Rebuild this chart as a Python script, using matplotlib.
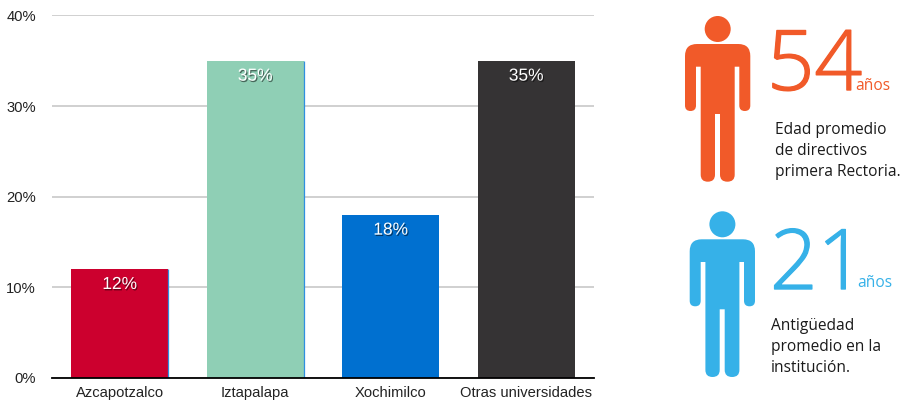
# plot.py - bar chart with two person icons on the right
import matplotlib
matplotlib.use('Agg')
import matplotlib.pyplot as plt
import matplotlib.patches as mp
import matplotlib.patheffects as pe
from matplotlib.path import Path

# data
categories = ['Azcapotzalco', 'Iztapalapa', 'Xochimilco', 'Otras universidades']
values = [12, 35, 18, 35]
bar_colors = ['#cc002e', '#8fcfb5', '#0070d0', '#353334']
yticks = [0, 10, 20, 30, 40]

W, H = 902, 401
fig = plt.figure(figsize=(W/100, H/100), dpi=100)
plt.rcParams['font.family'] = ['Liberation Sans', 'DejaVu Sans']

# main chart
ax = fig.add_axes([52/W, 1-377.8/H, 542/W, 362.4/H])
x = list(range(len(categories)))
ax.bar(x, values, width=0.716, color=bar_colors, zorder=3)
# thin blue edge on the right of the first two bars
for i in x[:2]:
    ax.vlines(i+0.358, 0, values[i], color='#2f8fe0', lw=0.9, zorder=4)
ax.set_xlim(-0.5, 3.5)
ax.set_ylim(0, 40)
ax.set_yticks(yticks)
ax.set_yticklabels([str(t)+'%' for t in yticks], fontsize=10.6, color='#222222')
ax.set_xticks(x)
ax.set_xticklabels(categories, fontsize=10.6, color='#222222')
ax.tick_params(axis='both', length=0)
ax.tick_params(axis='y', pad=11.5)
ax.tick_params(axis='x', pad=6)
ax.grid(axis='y', color='#c8c8c8', lw=1.2, zorder=0)
for s in ['top', 'left', 'right']:
    ax.spines[s].set_visible(False)
ax.spines['bottom'].set_color('black')
ax.spines['bottom'].set_linewidth(1.3)
ax.spines['bottom'].set_zorder(5)
for i in x:
    t = ax.text(i, values[i]-1.7, str(values[i])+'%', ha='center', va='center',
                fontsize=12.5, color='white', zorder=6)
    t.set_path_effects([pe.withSimplePatchShadow(offset=(0.8, -1), shadow_rgbFace='black', alpha=0.5)])

# overlay in pixel coordinates for the icons and text
ov = fig.add_axes([0, 0, 1, 1])
ov.set_xlim(0, W)
ov.set_ylim(H, 0)
ov.axis('off')
ov.patch.set_alpha(0)


def person(dx, dy, col):
    ov.add_patch(mp.Circle((717.7+dx, 29+dy), 13, fc=col, ec='none'))
    L = Path.LINETO
    C = Path.CURVE3
    outline = [
        (697, 44, Path.MOVETO), (738.3, 44, L),
        (750.3, 44, C), (750.3, 56, C),
        (750.3, 105.5, L),
        (750.3, 111, C), (744.8, 111, C),
        (739.3, 111, C), (739.3, 105.5, C),
        (739.3, 66.7, L), (734.7, 66.7, L),
        (734.7, 174.7, L),
        (734.7, 181.7, C), (727.4, 181.7, C),
        (720, 181.7, C), (720, 174.7, C),
        (720, 114, L), (715, 114, L),
        (715, 174.7, L),
        (715, 181.7, C), (707.8, 181.7, C),
        (700.7, 181.7, C), (700.7, 174.7, C),
        (700.7, 66.7, L), (696, 66.7, L),
        (696, 105.5, L),
        (696, 111, C), (690.5, 111, C),
        (685, 111, C), (685, 105.5, C),
        (685, 56, L),
        (685, 44, C), (697, 44, C),
    ]
    verts = [(p[0]+dx, p[1]+dy) for p in outline]
    codes = [p[2] for p in outline]
    ov.add_patch(mp.PathPatch(Path(verts, codes), fc=col, ec='none'))


orange = '#f15a29'
blue = '#36b1e8'
person(0, 0, orange)
person(4.7, 195.3, blue)

big = dict(family=['Open Sans', 'DejaVu Sans'], weight=300, fontsize=60, va='baseline', ha='left')
small = dict(family=['Open Sans', 'DejaVu Sans'], fontsize=11.2, va='baseline', ha='left')
body = dict(family=['Open Sans', 'DejaVu Sans'], fontsize=11.2, color='#1a1a1a', va='baseline',
            ha='left')

t54 = ov.text(767, 90, '54', color=orange, **big)
t54.set_path_effects([pe.withStroke(linewidth=1.0, foreground=orange)])
ov.text(855, 90, 'años', color=orange, **small)
ov.text(775, 134, 'Edad promedio', **body)
ov.text(775, 155, 'de directivos', **body)
ov.text(775, 176, 'primera Rectoria.', **body)

t21 = ov.text(770, 289, '21', color=blue, **big)
t21.set_path_effects([pe.withStroke(linewidth=1.0, foreground=blue)])
ov.text(857, 287, 'años', color=blue, **small)
ov.text(771, 330, 'Antigüedad', **body)
ov.text(771, 351, 'promedio en la', **body)
ov.text(771, 372, 'institución.', **body)

fig.savefig('out.png', dpi=100)
